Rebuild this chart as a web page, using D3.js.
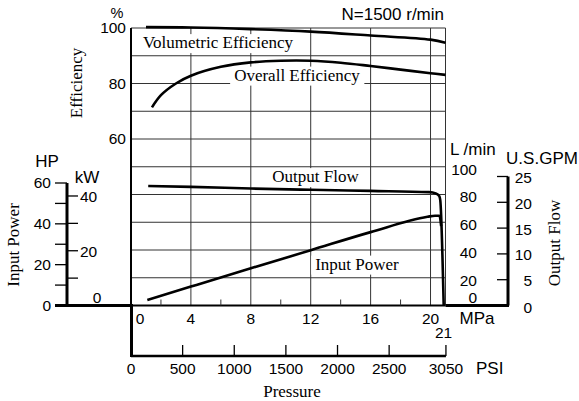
<!DOCTYPE html>
<html>
<head>
<meta charset="utf-8">
<script src="https://cdn.jsdelivr.net/npm/d3@7"></script>
<style>
  html, body { margin: 0; padding: 0; background: #fff; }
  svg { display: block; }
</style>
</head>
<body>
<script>
// ---------- data ----------
const mpaTicks = [0, 4, 8, 12, 16, 20];
const mpaMinor = [2, 6, 10, 14, 18];
const mpaMax = 21;
const psiTicks = [0, 500, 1000, 1500, 2000, 2500, 3050];
const effTicks = [60, 80, 100];
const effGrid = [10, 20, 30, 40, 50, 60, 70, 80, 90, 100];
const hpTicks = [0, 20, 40, 60];
const hpMinor = [10, 30, 50];
const kwTicks = [0, 20, 40];
const kwMinor = [10, 30];
const lminTicks = [0, 20, 40, 60, 80, 100];
const gpmTicks = [0, 5, 10, 15, 20, 25];

// Volumetric efficiency (%)
const volP = [1.0, 4, 8, 12, 16, 20, 21];
const volE = [100.3, 100.2, 99.6, 98.7, 97.3, 95.8, 94.7];
// Overall efficiency (%)
const ovP = [1.4, 2, 3, 4, 6, 8, 10, 12, 14, 16, 18, 20, 21];
const ovE = [71.4, 75.8, 80.0, 82.8, 86.0, 87.6, 88.2, 88.2, 87.5, 86.3, 85.0, 83.7, 83.1];
// Output flow (L/min)
const flP = [1.15, 4, 8, 12, 16, 19.9, 20.35, 20.58, 20.65, 20.88];
const flQ = [86.1, 85.5, 84.3, 83.4, 82.6, 81.7, 80.8, 79.0, 76.0, 0];
// Input power (kW)
const pwP = [1.09, 4, 8, 12, 16, 19.8, 20.3, 20.6, 20.71];
const pwK = [2.0, 6.9, 13.6, 20.2, 26.8, 32.4, 32.8, 32.8, 29.0];

// ---------- setup ----------
const W = 579, H = 401;
const SANS = "'Liberation Sans', Arial, Helvetica, sans-serif";
const SERIF = "'Liberation Serif', 'Times New Roman', serif";

const svg = d3.select("body").append("svg").attr("width", W).attr("height", H);

const x = d3.scaleLinear().domain([0, mpaMax]).range([131, 445.5]);
const xPsi = d3.scaleLinear().domain([0, 3050]).range([131, 131 + 3050 * 0.0068948 * (314.5 / 21)]);
const yEff = d3.scaleLinear().domain([0, 100]).range([305.5, 28]);
const yFlow = d3.scaleLinear().domain([0, 100]).range([305.5, 166.75]);
const yHp = d3.scaleLinear().domain([0, 60]).range([305.5, 183]);
const yKw = d3.scaleLinear().domain([0, 60 / 1.341]).range([305.5, 183]);
const yGpm = d3.scaleLinear().domain([0, 25]).range([305.5, 176.5]);

const grid = svg.append("g").attr("stroke", "#333").attr("stroke-width", 1).attr("fill", "none");
// horizontal grid
effGrid.forEach(v => {
  grid.append("line").attr("x1", x(0)).attr("x2", x(mpaMax)).attr("y1", yEff(v)).attr("y2", yEff(v));
});
// vertical grid
mpaTicks.slice(1).concat([mpaMax]).forEach(v => {
  grid.append("line").attr("x1", x(v)).attr("x2", x(v)).attr("y1", yEff(100)).attr("y2", yEff(0));
});
// baseline inside plot
grid.append("line").attr("x1", x(0)).attr("x2", x(mpaMax)).attr("y1", yEff(0)).attr("y2", yEff(0)).attr("stroke", "#000").attr("stroke-width", 1.8);
// minor MPa ticks
mpaMinor.forEach(v => {
  grid.append("line").attr("x1", x(v)).attr("x2", x(v)).attr("y1", yEff(0)).attr("y2", yEff(0) - 6);
});

// ---------- in-plot labels with white background ----------
function boxedLabel(txt, cx, cy) {
  const g = svg.append("g");
  const r = g.append("rect").attr("fill", "#fff");
  const t = g.append("text").attr("x", cx).attr("y", cy).attr("dy", "0.33em")
    .attr("text-anchor", "middle").attr("font-family", SERIF).attr("font-size", 17).attr("fill", "#000").text(txt);
  const b = t.node().getBBox();
  r.attr("x", b.x - 4).attr("y", b.y + 1).attr("width", b.width + 8).attr("height", b.height);
}
boxedLabel("Volumetric Efficiency", 218, 42.5);
boxedLabel("Overall Efficiency", 297, 75);
boxedLabel("Output Flow", 315.5, 176.5);
boxedLabel("Input Power", 357, 264);

// ---------- axes lines ----------
const axes = svg.append("g").attr("stroke", "#000").attr("fill", "none");
axes.append("line").attr("x1", 131).attr("x2", 131).attr("y1", yEff(100)).attr("y2", yEff(0)).attr("stroke-width", 2);
axes.append("line").attr("x1", 55).attr("x2", 131).attr("y1", yHp(0)).attr("y2", yHp(0)).attr("stroke-width", 3);
axes.append("line").attr("x1", x(mpaMax)).attr("x2", 509).attr("y1", yGpm(0)).attr("y2", yGpm(0)).attr("stroke-width", 3);
axes.append("line").attr("x1", 67).attr("x2", 67).attr("y1", yHp(60)).attr("y2", yHp(0)).attr("stroke-width", 3);
axes.append("line").attr("x1", 508).attr("x2", 508).attr("y1", yGpm(25)).attr("y2", yGpm(0)).attr("stroke-width", 3);
axes.append("line").attr("x1", 131.5).attr("x2", 131.5).attr("y1", 304).attr("y2", 357).attr("stroke-width", 3);
axes.append("line").attr("x1", xPsi(0)).attr("x2", xPsi(3050)).attr("y1", 356).attr("y2", 356).attr("stroke-width", 2.5);
psiTicks.slice(1).forEach(v => {
  axes.append("line").attr("x1", xPsi(v)).attr("x2", xPsi(v)).attr("y1", 356).attr("y2", 345).attr("stroke-width", 1.3);
});
hpTicks.concat(hpMinor).forEach(v => {
  if (v === 0) return;
  axes.append("line").attr("x1", 55).attr("x2", 67).attr("y1", yHp(v)).attr("y2", yHp(v)).attr("stroke-width", 1.3);
});
kwTicks.concat(kwMinor).forEach(v => {
  if (v === 0) return;
  axes.append("line").attr("x1", 67).attr("x2", 78).attr("y1", yKw(v)).attr("y2", yKw(v)).attr("stroke-width", 1.3);
});
gpmTicks.forEach(v => {
  if (v === 0) return;
  axes.append("line").attr("x1", 497).attr("x2", 508).attr("y1", yGpm(v)).attr("y2", yGpm(v)).attr("stroke-width", 1.3);
});

// ---------- text ----------
function txt(s, tx, ty, anchor, size, fam) {
  return svg.append("text").attr("x", tx).attr("y", ty).attr("dy", "0.35em")
    .attr("text-anchor", anchor).attr("font-family", fam || SANS).attr("font-size", size).attr("fill", "#000").text(s);
}
const TS = 15.5;
effTicks.forEach(v => txt(v, 126, yEff(v), "end", TS));
txt("%", 117, 12.5, "middle", 14.5);
hpTicks.forEach(v => txt(v, 51, yHp(v), "end", TS));
txt("HP", 47, 161, "middle", 17);
kwTicks.forEach(v => {
  if (v === 0) txt(v, 97, yKw(v) - 7.5, "middle", TS);
  else txt(v, 80, yKw(v) + 1, "start", TS);
});
txt("kW", 87, 177.5, "middle", 17);
lminTicks.forEach(v => txt(v, 477, v === 0 ? yFlow(v) - 8 : yFlow(v) + 2.5, "end", TS));
txt("L /min", 450, 149, "start", 17);
gpmTicks.forEach(v => txt(v, 532, yGpm(v) + (v === 0 ? 2.5 : 1), "end", TS));
txt("U.S.GPM", 542, 158, "middle", 17);
mpaTicks.forEach(v => txt(v, v === 0 ? x(v) + 9 : x(v), 318.5, "middle", TS));
txt("21", x(mpaMax) - 2, 333, "middle", TS);
txt("MPa", 477, 318.5, "middle", 17);
psiTicks.forEach(v => txt(v, xPsi(v), 368.5, "middle", TS));
txt("PSI", 476, 368.5, "start", 17);
txt("N=1500 r/min", 444, 14.5, "end", 17);
txt("Pressure", 292, 391, "middle", 17, SERIF);

function vtxt(s, cx, cy) {
  svg.append("text").attr("transform", `translate(${cx},${cy}) rotate(-90)`)
    .attr("dy", "0.33em").attr("text-anchor", "middle")
    .attr("font-family", SERIF).attr("font-size", 17).attr("fill", "#000").text(s);
}
vtxt("Efficiency", 76, 83);
vtxt("Input Power", 13.5, 245);
vtxt("Output Flow", 554, 243);

// ---------- curves ----------
const curves = svg.append("g").attr("fill", "none").attr("stroke", "#000").attr("stroke-width", 2.6)
  .attr("stroke-linejoin", "round").attr("stroke-linecap", "butt");
const lineEff = d3.line().x(d => x(d[0])).y(d => yEff(d[1])).curve(d3.curveCatmullRom.alpha(0.5));
const lineFlow = d3.line().x(d => x(d[0])).y(d => yFlow(d[1])).curve(d3.curveMonotoneX);
const linePw = d3.line().x(d => x(d[0])).y(d => yKw(d[1])).curve(d3.curveMonotoneX);
curves.append("path").attr("d", lineEff(d3.zip(volP, volE)));
curves.append("path").attr("d", lineEff(d3.zip(ovP, ovE)));
curves.append("path").attr("d", lineFlow(d3.zip(flP, flQ)));
curves.append("path").attr("d", linePw(d3.zip(pwP, pwK)));
</script>
</body>
</html>
